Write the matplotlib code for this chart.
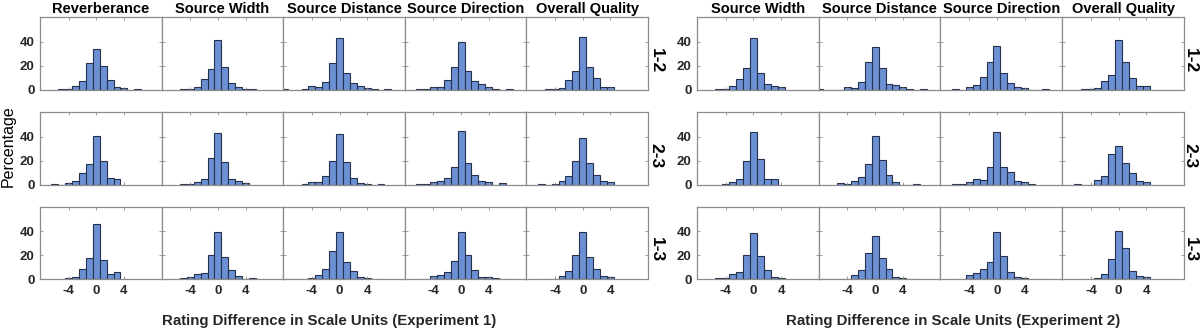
import numpy as np
import matplotlib
matplotlib.use("Agg")
import matplotlib.pyplot as plt

plt.rcParams['font.family'] = ['Liberation Sans', 'DejaVu Sans']
plt.rcParams['axes.unicode_minus'] = False

# bin centres (rating difference, scale units)
bins = [-8, -7, -6, -5, -4, -3, -2, -1, 0, 1, 2, 3, 4, 5, 6, 7]

attrs_exp1 = ["Reverberance", "Source Width", "Source Distance", "Source Direction", "Overall Quality"]
attrs_exp2 = ["Source Width", "Source Distance", "Source Direction", "Overall Quality"]
pairs = ["1-2", "2-3", "1-3"]

# percentages, Experiment 1
e1_12_rev = [0, 0, 0, 0.5, 0.5, 3, 7, 22.5, 34, 20, 8, 2.5, 1.5, 0, 0.5, 0]
e1_12_sw = [0, 0, 0, 0.5, 0.5, 2, 9, 17.5, 41.5, 18.5, 5.5, 2.2, 0.7, 0.7, 0, 0]
e1_12_sd = [0.5, 0, 0, 0.5, 2.8, 1.7, 6, 22, 43, 14, 5.5, 2.8, 1.5, 0.3, 0, 0.5]
e1_12_sdir = [0, 0, 0.3, 0.3, 2.2, 2.2, 8.3, 18.6, 39.4, 15.8, 6.7, 4.4, 1.7, 0.5, 0, 0.5]
e1_12_oq = [0, 0, 0, 0.3, 0.3, 1.4, 8.3, 15.3, 43.6, 18.6, 9.7, 1.7, 1.7, 0, 0, 0]

e1_23_rev = [0, 0, 0.3, 0, 1.4, 2.8, 9.2, 16.7, 40.5, 19.7, 5.6, 5, 0, 0, 0, 0]
e1_23_sw = [0, 0, 0, 0.3, 0.8, 2.5, 5, 21.7, 43, 18.9, 4.2, 3, 1.1, 0, 0, 0]
e1_23_sd = [0, 0, 0, 0.5, 1.7, 2.5, 7.2, 19.4, 42, 18.9, 5.8, 1.4, 0.3, 0, 0.8, 0]
e1_23_sdir = [0, 0, 0.3, 0.3, 1.7, 2.8, 5.3, 14.2, 44.4, 18.3, 8.3, 2.8, 1.9, 0, 1.4, 0]
e1_23_oq = [0, 0, 0.3, 0, 0.3, 3, 6.7, 19.7, 39, 18.3, 8.3, 2.8, 1.7, 0, 0, 0]

e1_13_rev = [0, 0, 0, 0, 0.8, 1.7, 8.5, 17.2, 45.9, 15.8, 4.2, 6.2, 0, 0, 0, 0]
e1_13_sw = [0, 0, 0.3, 0.6, 1.7, 4.2, 5, 19.7, 38.9, 18.6, 7.6, 2.3, 0, 0.8, 0, 0]
e1_13_sd = [0.3, 0, 0.3, 0.3, 0.8, 3.7, 8.7, 23.1, 38.9, 14.6, 6.5, 2, 0.8, 0.3, 0.3, 0]
e1_13_sdir = [0, 0, 0.3, 0, 2.5, 3.4, 5.9, 15.2, 39.4, 20.3, 7.6, 2, 2, 0.8, 0.3, 0.3]
e1_13_oq = [0, 0, 0.3, 0, 0.3, 2.8, 6.5, 19.7, 39.4, 18.6, 8.2, 2.5, 1.4, 0, 0, 0]

# percentages, Experiment 2
e2_12_sw = [0, 0, 0, 0.7, 0.7, 3, 8.9, 18, 43, 14, 4.7, 3.3, 2, 0, 0, 0]
e2_12_sd = [0.5, 0, 0, 0, 2.5, 1.4, 6.4, 23, 35.5, 18, 4.7, 3.9, 2, 0.3, 0, 0.5]
e2_12_sdir = [0, 0, 0.5, 0, 2.2, 3.9, 10.5, 22.8, 36.7, 14, 5.5, 2.2, 1.4, 0, 0, 0.5]
e2_12_oq = [0, 0, 0, 0.3, 0.3, 1.4, 6.7, 11.7, 41.7, 22.8, 9.7, 3.3, 2.8, 0, 0, 0]

e2_23_sw = [0, 0, 0, 0, 0.5, 2.5, 4.4, 19.2, 44, 21, 4.4, 4.4, 0, 0, 0, 0]
e2_23_sd = [0, 0, 0, 1.4, 0.5, 3.3, 6.1, 17.5, 40.8, 20.8, 8.3, 1.9, 0, 0, 0.5, 0]
e2_23_sdir = [0, 0, 0.3, 0.3, 2.5, 4.2, 3.9, 15, 43.6, 15, 10.8, 3.3, 1.9, 0.5, 0, 0]
e2_23_oq = [0, 0, 0.5, 0, 0, 3.9, 6.9, 25.8, 32.5, 17.8, 9.4, 3, 1.9, 0, 0, 0]

e2_13_sw = [0, 0, 0, 0.5, 0.8, 4.2, 5.6, 20.3, 38, 19.2, 7.6, 2, 0.8, 0, 0, 0]
e2_13_sd = [0.3, 0, 0, 0.3, 0, 3.4, 7.6, 22, 36, 17.7, 8.7, 2, 0.8, 0.3, 0.3, 0]
e2_13_sdir = [0, 0, 0.3, 0, 3.1, 5, 8.7, 13.8, 39.4, 19.4, 5.9, 1.7, 0.8, 0, 0, 0.3]
e2_13_oq = [0, 0, 0, 0.3, 0, 0.8, 4.2, 16.9, 40, 26.2, 7, 2.8, 1.7, 0, 0, 0]

exp1 = [[e1_12_rev, e1_12_sw, e1_12_sd, e1_12_sdir, e1_12_oq],
        [e1_23_rev, e1_23_sw, e1_23_sd, e1_23_sdir, e1_23_oq],
        [e1_13_rev, e1_13_sw, e1_13_sd, e1_13_sdir, e1_13_oq]]
exp2 = [[e2_12_sw, e2_12_sd, e2_12_sdir, e2_12_oq],
        [e2_23_sw, e2_23_sd, e2_23_sdir, e2_23_oq],
        [e2_13_sw, e2_13_sd, e2_13_sdir, e2_13_oq]]

W, H = 1200, 331
fig = plt.figure(figsize=(W / 100, H / 100), dpi=100)

bar_col = '#6b91d4'
edge_col = '#25324d'
frame_col = '#8c8c8c'
tick_col = '#262626'

row_tops = [17, 112, 206.5]
row_h = 72.5


def draw_group(data, titles, x0, pw, label_x, xlab, xlab_x):
    for r, row in enumerate(data):
        for c, vals in enumerate(row):
            left = x0 + c * pw
            ax = fig.add_axes([left / W, 1 - (row_tops[r] + row_h) / H, pw / W, row_h / H])
            v = np.array(vals, dtype=float)
            nz = np.nonzero(v)[0]
            sl = slice(nz[0], nz[-1] + 1)
            ax.bar(np.array(bins)[sl], v[sl], width=1.0, color=bar_col,
                   edgecolor=edge_col, linewidth=0.8)
            ax.set_xlim(-8.15, 9.45)
            ax.set_ylim(0, 60.5)
            ax.set_xticks([-4, 0, 4])
            ax.set_yticks([0, 20, 40])
            ax.tick_params(direction='in', length=2.5, width=0.6, color=frame_col,
                           top=True, right=True, labelsize=9.5, labelcolor=tick_col, pad=4)
            for lab in ax.get_xticklabels() + ax.get_yticklabels():
                lab.set_fontweight('bold')
            if r < 2:
                ax.set_xticklabels([])
            if c > 0:
                ax.set_yticklabels([])
            for s in ax.spines.values():
                s.set_color(frame_col)
                s.set_linewidth(0.9)
            if r == 0:
                ax.set_title(titles[c], fontsize=10.5, fontweight='bold', pad=3, color='black')
        fig.text(label_x / W, 1 - (row_tops[r] + row_h / 2 + 7) / H, pairs[r], rotation=-90,
                 ha='center', va='center', fontsize=12.5, fontweight='bold')
    fig.text(xlab_x / W, 1 - 321 / H, xlab, ha='center', va='center',
             fontsize=10.8, fontweight='bold', color=tick_col)


draw_group(exp1, attrs_exp1, 40, 121.6, 656, "Rating Difference in Scale Units (Experiment 1)", 329)
draw_group(exp2, attrs_exp2, 697, 121.75, 1190, "Rating Difference in Scale Units (Experiment 2)", 953)

fig.text(8.5 / W, 1 - 146 / H, "Percentage", rotation=90, ha='center', va='center', fontsize=11.5)

fig.savefig("out.png", dpi=100)
